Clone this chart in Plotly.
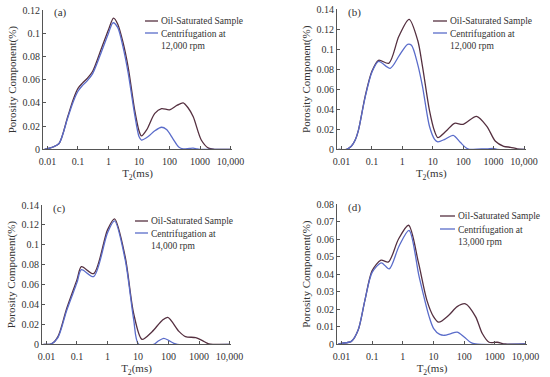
import plotly.graph_objects as go

W, H = 550, 377

# ---------------- data ----------------
# Panel (a)
a_oil_t2 = [0.008, 0.01, 0.015, 0.024, 0.046, 0.07, 0.1, 0.14, 0.2, 0.3, 0.57, 1.0, 1.46, 2.0, 3.0, 4.4, 7.2, 10, 12, 18, 33, 55, 100, 180, 280, 400, 600, 1100, 1900, 3000, 10000]
a_oil_y = [0.0, 0.0005, 0.002, 0.005, 0.028, 0.043, 0.0525, 0.057, 0.061, 0.067, 0.086, 0.103, 0.113, 0.108, 0.092, 0.071, 0.034, 0.016, 0.0115, 0.017, 0.031, 0.035, 0.034, 0.038, 0.040, 0.036, 0.028, 0.008, 0.001, 0.0, 0.0]
a_cen_t2 = [0.008, 0.01, 0.015, 0.024, 0.046, 0.07, 0.1, 0.14, 0.2, 0.3, 0.57, 1.0, 1.4, 2.0, 3.0, 4.4, 7.2, 10, 12, 20, 33, 55, 80, 130, 200, 280, 450, 600, 800, 1000, 10000]
a_cen_y = [0.0, 0.0005, 0.002, 0.005, 0.027, 0.041, 0.050, 0.055, 0.059, 0.065, 0.083, 0.100, 0.109, 0.105, 0.088, 0.066, 0.030, 0.011, 0.008, 0.011, 0.016, 0.019, 0.017, 0.009, 0.002, 0.0003, 0.0008, 0.001, 0.0003, 0.0, 0.0]

# Panel (b)
b_oil_t2 = [0.008, 0.0147, 0.021, 0.028, 0.036, 0.06, 0.1, 0.166, 0.36, 0.77, 1.67, 3.2, 4.6, 7.8, 11.5, 14.7, 27, 52, 100, 275, 600, 1150, 2150, 3600, 6000, 10000]
b_oil_y = [0.0, 0.0, 0.003, 0.009, 0.019, 0.053, 0.078, 0.089, 0.086, 0.113, 0.130, 0.109, 0.083, 0.039, 0.018, 0.0117, 0.018, 0.026, 0.025, 0.033, 0.023, 0.008, 0.003, 0.002, 0.0005, 0.0]
b_cen_t2 = [0.008, 0.0147, 0.021, 0.028, 0.036, 0.06, 0.1, 0.166, 0.4, 0.8, 1.5, 2.0, 3.2, 4.6, 7.8, 11.5, 14.7, 25, 47, 80, 130, 160, 400, 600, 1000, 1300, 10000]
b_cen_y = [0.0, 0.0, 0.003, 0.009, 0.019, 0.052, 0.077, 0.088, 0.081, 0.094, 0.105, 0.104, 0.085, 0.063, 0.023, 0.010, 0.0075, 0.010, 0.014, 0.007, 0.001, 0.0, 0.0005, 0.0003, 0.001, 0.0, 0.0]

# Panel (c)
c_oil_t2 = [0.008, 0.0146, 0.024, 0.046, 0.1, 0.14, 0.35, 1.0, 1.7, 3.8, 7.2, 13.5, 29, 62, 95, 220, 360, 780, 1300, 2100, 10000]
c_oil_y = [0.0, 0.0005, 0.008, 0.036, 0.065, 0.078, 0.071, 0.115, 0.126, 0.088, 0.031, 0.005, 0.0127, 0.024, 0.027, 0.013, 0.0077, 0.0067, 0.0037, 0.0005, 0.0]
c_cen_t2 = [0.008, 0.0146, 0.024, 0.046, 0.1, 0.14, 0.35, 1.0, 1.7, 3.8, 7.2, 10.5, 33, 45, 70, 100, 150, 195, 10000]
c_cen_y = [0.0, 0.0005, 0.007, 0.034, 0.062, 0.075, 0.068, 0.112, 0.124, 0.085, 0.025, 0.0, 0.0, 0.003, 0.006, 0.004, 0.001, 0.0, 0.0]

# Panel (d)
d_oil_t2 = [0.008, 0.01, 0.021, 0.035, 0.058, 0.1, 0.194, 0.34, 0.72, 1.54, 3.2, 6.1, 10, 14.8, 32, 59, 110, 235, 390, 650, 1200, 2200, 10000]
d_oil_y = [0.0, 0.0004, 0.0015, 0.008, 0.025, 0.042, 0.048, 0.047, 0.060, 0.068, 0.047, 0.025, 0.0157, 0.0125, 0.0166, 0.0214, 0.023, 0.0157, 0.006, 0.001, 0.001, 0.0, 0.0]
d_cen_t2 = [0.008, 0.01, 0.021, 0.035, 0.058, 0.1, 0.2, 0.36, 0.75, 1.6, 3.4, 7.2, 10, 16, 23, 35, 59, 100, 160, 235, 10000]
d_cen_y = [0.0, 0.0004, 0.0015, 0.008, 0.025, 0.041, 0.0465, 0.043, 0.056, 0.065, 0.0386, 0.0157, 0.009, 0.0055, 0.005, 0.0058, 0.0068, 0.004, 0.001, 0.0, 0.0]

x_tickvals = [0.01, 0.1, 1, 10, 100, 1000, 10000]
x_ticktext = ["0.01", "0.1", "1", "10", "100", "1000", "10,000"]
y_ticks_a = [0, 0.02, 0.04, 0.06, 0.08, 0.1, 0.12]
y_text_a = ["0", "0.02", "0.04", "0.06", "0.08", "0.1", "0.12"]
y_ticks_b = [0, 0.02, 0.04, 0.06, 0.08, 0.1, 0.12, 0.14]
y_text_b = ["0", "0.02", "0.04", "0.06", "0.08", "0.1", "0.12", "0.14"]
y_ticks_d = [0, 0.01, 0.02, 0.03, 0.04, 0.05, 0.06, 0.07, 0.08]
y_text_d = ["0", "0.01", "0.02", "0.03", "0.04", "0.05", "0.06", "0.07", "0.08"]

panel_labels = ["(a)", "(b)", "(c)", "(d)"]
oil_name = "Oil-Saturated Sample"
cen_names = ["Centrifugation at<br>12,000 rpm", "Centrifugation at<br>12,000 rpm",
             "Centrifugation at<br>14,000 rpm", "Centrifugation at<br>13,000 rpm"]

OIL_C = "#553040"
CEN_C = "#5a6cca"
AX_C = "#555555"
TXT_C = "#333333"
FONT = "Liberation Serif"

def px(x):
    return x / W

def py(y):
    return 1 - y / H

# layout geometry (pixels): (x0, x1, ytop, ybottom)
geo = [
    (43, 232, 10, 149.3),
    (337, 525.5, 9.3, 149.3),
    (42, 231, 205, 344.3),
    (337, 527, 204.3, 344),
]
yranges = [[0, 0.12], [0, 0.14], [0, 0.14], [0, 0.08]]
yticks = [(y_ticks_a, y_text_a), (y_ticks_b, y_text_b), (y_ticks_b, y_text_b), (y_ticks_d, y_text_d)]
series = [
    (a_oil_t2, a_oil_y, a_cen_t2, a_cen_y),
    (b_oil_t2, b_oil_y, b_cen_t2, b_cen_y),
    (c_oil_t2, c_oil_y, c_cen_t2, c_cen_y),
    (d_oil_t2, d_oil_y, d_cen_t2, d_cen_y),
]
# legend anchor: (line x0, line x1, y oil, y cen)
leg = [
    (145, 158, 21, 33),
    (433, 447, 21, 33),
    (135, 148, 221, 233),
    (440, 455, 216, 229),
]

fig = go.Figure()
layout = dict(width=W, height=H, margin=dict(l=0, r=0, t=0, b=0, autoexpand=False),
              paper_bgcolor="white", plot_bgcolor="white", showlegend=False,
              font=dict(family=FONT, size=10, color=TXT_C))
shapes = []
annotations = []

for i in range(4):
    sfx = "" if i == 0 else str(i + 1)
    xa, ya = "x" + sfx, "y" + sfx
    ot, oy, ct, cy = series[i]
    fig.add_trace(go.Scatter(x=ot, y=oy, mode="lines", line=dict(color=OIL_C, width=1.3, shape="spline", smoothing=0.8),
                             xaxis=xa, yaxis=ya, name=oil_name))
    fig.add_trace(go.Scatter(x=ct, y=cy, mode="lines", line=dict(color=CEN_C, width=1.3, shape="spline", smoothing=0.8),
                             xaxis=xa, yaxis=ya, name=cen_names[i]))
    x0, x1, yt, yb = geo[i]
    ppd = (x1 - x0) / 6.16
    layout["xaxis" + sfx] = dict(
        domain=[px(x0), px(x1)], anchor=ya, type="log", automargin=False,
        range=[-2 - 4.5 / ppd, 4 + 1.5 / ppd],
        tickvals=x_tickvals, ticktext=x_ticktext, ticks="inside", ticklen=3, tickcolor=AX_C,
        ticklabelstandoff=3,
        showline=True, linecolor=AX_C, linewidth=1, showgrid=False, zeroline=False,
        tickfont=dict(family=FONT, size=10, color=TXT_C),
        title=dict(text="T<sub>2</sub>(ms)", font=dict(family=FONT, size=11, color=TXT_C), standoff=3),
    )
    tv, tt = yticks[i]
    layout["yaxis" + sfx] = dict(
        domain=[py(yb), py(yt)], anchor=xa, range=yranges[i], automargin=False,
        tickvals=tv, ticktext=tt, ticks="inside", ticklen=3, tickcolor=AX_C,
        showline=True, linecolor=AX_C, linewidth=1, showgrid=False, zeroline=False,
        tickfont=dict(family=FONT, size=10, color=TXT_C),
        title=dict(text="Porosity Component(%)", font=dict(family=FONT, size=11, color=TXT_C), standoff=3),
    )
    annotations.append(dict(text=panel_labels[i], xref="paper", yref="paper",
                            x=px(x0 + 9), y=py(yt + 3), xanchor="left", yanchor="middle",
                            showarrow=False, font=dict(family=FONT, size=11, color=TXT_C)))
    lx0, lx1, lyo, lyc = leg[i]
    shapes.append(dict(type="line", xref="paper", yref="paper", x0=px(lx0), x1=px(lx1), y0=py(lyo), y1=py(lyo),
                       line=dict(color=OIL_C, width=1.3)))
    shapes.append(dict(type="line", xref="paper", yref="paper", x0=px(lx0), x1=px(lx1), y0=py(lyc), y1=py(lyc),
                       line=dict(color=CEN_C, width=1.3)))
    annotations.append(dict(text=oil_name, xref="paper", yref="paper", x=px(lx1 + 1), y=py(lyo),
                            xanchor="left", yanchor="middle", showarrow=False, align="left",
                            font=dict(family=FONT, size=9.5, color=TXT_C)))
    annotations.append(dict(text=cen_names[i], xref="paper", yref="paper", x=px(lx1 + 1), y=py(lyc - 6),
                            xanchor="left", yanchor="top", showarrow=False, align="left",
                            font=dict(family=FONT, size=9.5, color=TXT_C)))

layout["shapes"] = shapes
layout["annotations"] = annotations
fig.update_layout(**layout)
fig.write_html("out.html", config={"displayModeBar": False},
               post_script="document.body.style.margin='0';document.body.style.overflow='hidden';")
